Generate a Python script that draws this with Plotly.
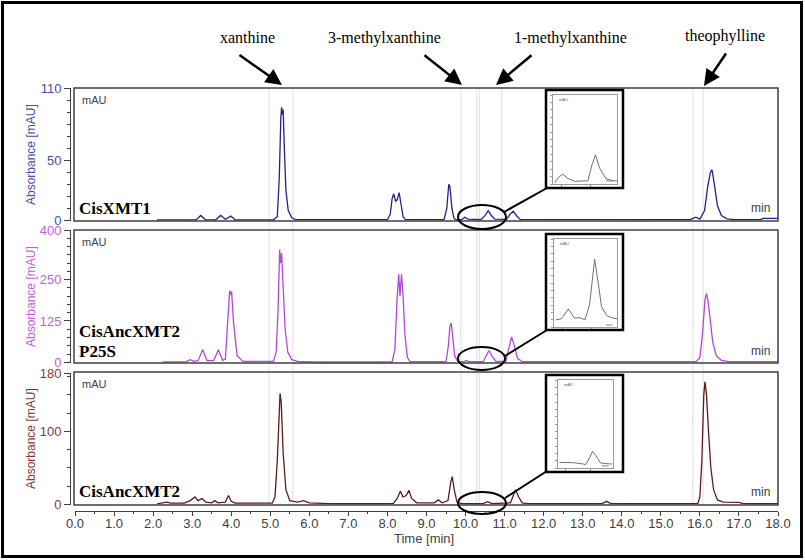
import plotly.graph_objects as go

W, H = 805, 560
def px(x): return x / W
def py(y): return 1 - y / H

# ---------------- data ----------------
time_xmt1 = [2.10, 3.10, 3.22, 3.34, 3.60, 3.73, 3.85, 3.99, 4.10, 5.08, 5.18, 5.23, 5.27, 5.29, 5.31,
             5.33, 5.36, 5.40, 5.46, 5.55, 5.65, 6.45, 8.00, 8.07, 8.12, 8.16, 8.21, 8.25, 8.30,
             8.34, 8.40, 8.46, 9.45, 9.52, 9.57, 9.60, 9.65, 9.70, 9.75, 9.90, 9.98, 10.06, 10.40,
             10.50, 10.58, 10.66, 10.75, 11.05, 11.15, 11.22, 11.30, 11.40, 15.75, 15.90, 16.00,
             16.12, 16.20, 16.27, 16.31, 16.38, 16.45, 16.55, 16.70, 16.90, 17.55, 17.62, 18.00]
abs_xmt1 = [0.3, 0.3, 4.0, 0.4, 0.4, 4.0, 0.8, 3.5, 0.4, 0.4, 3.0, 35, 85, 94, 88,
            92, 60, 25, 8, 2, 0.6, 0.5, 0.5, 5, 18, 22, 16, 17, 23,
            15, 3, 0.6, 0.5, 10, 30, 28, 10, 2, 0.5, 0.5, 2.5, 1.0, 0.5,
            4, 8, 4, 1, 0.8, 5.5, 7.5, 4, 0.7, 0.5, 2.5, 1.0,
            8, 28, 40, 42, 28, 12, 4, 1.2, 0.5, 0.5, 1.5, 1.5]

time_p25s = [2.25, 2.85, 2.95, 3.05, 3.15, 3.27, 3.38, 3.55, 3.67, 3.78, 3.85, 3.91, 3.96, 3.98,
             4.01, 4.06, 4.15, 4.30, 5.08, 5.15, 5.20, 5.24, 5.26, 5.29, 5.33, 5.38, 5.45, 5.55,
             5.70, 6.10, 8.12, 8.19, 8.25, 8.29, 8.32, 8.36, 8.40, 8.45, 8.51, 8.58, 9.50, 9.56,
             9.60, 9.63, 9.67, 9.72, 9.80, 9.95, 10.02, 10.10, 10.45, 10.53, 10.60, 10.68, 10.78,
             11.03, 11.10, 11.18, 11.25, 11.33, 11.45, 13.30, 13.40, 13.50, 15.90, 16.00, 16.07,
             16.13, 16.17, 16.21, 16.27, 16.33, 16.42, 16.55, 16.75, 18.00]
abs_p25s = [1, 2, 8, 3, 5, 38, 5, 5, 38, 6, 10, 120, 217, 205,
            214, 120, 20, 3, 3, 30, 160, 341, 300, 330, 230, 100, 30, 8,
            3, 1, 1, 40, 200, 266, 200, 266, 200, 80, 15, 2, 2, 50,
            110, 119, 80, 20, 3, 2, 5, 2, 2, 18, 36, 18, 3,
            3, 35, 77, 50, 12, 2, 2, 4, 2, 2, 15, 90,
            190, 208, 185, 120, 60, 20, 6, 2, 2]

time_anc2 = [2.10, 2.25, 2.35, 2.45, 2.80, 2.95, 3.07, 3.15, 3.25, 3.35, 3.50, 3.58, 3.66, 3.85,
             3.93, 4.00, 4.10, 5.05, 5.12, 5.18, 5.23, 5.25, 5.28, 5.33, 5.40, 5.50, 5.70, 5.85,
             6.00, 6.50, 8.15, 8.25, 8.33, 8.40, 8.48, 8.55, 8.62, 8.75, 9.20, 9.30, 9.40, 9.55,
             9.62, 9.66, 9.71, 9.78, 9.90, 10.45, 10.56, 10.68, 11.15, 11.22, 11.28, 11.36, 11.45,
             11.60, 13.50, 13.61, 13.72, 15.95, 16.00, 16.05, 16.10, 16.13, 16.17, 16.22, 16.28,
             16.35, 16.45, 16.60, 16.80, 17.00, 17.10, 18.00]
abs_anc2 = [0.5, 2.5, 3, 1.5, 1.5, 5, 10, 5, 8, 3, 2, 5, 2, 3,
            12, 4, 1.5, 1.5, 10, 60, 140, 152, 140, 70, 20, 5, 3, 5,
            2, 1, 1, 8, 18, 10, 12, 19, 8, 2, 2, 6, 2, 5,
            30, 38, 20, 3, 1, 1, 3.6, 1, 2, 12, 20, 10, 2,
            1, 1, 4, 1, 1, 10, 60, 150, 168, 150, 100, 50,
            20, 6, 3, 2.5, 2.5, 1, 1]

# zoomed insets (region around 10-11 min)
inset1_t = [9.88, 9.95, 10.02, 10.10, 10.22, 10.45, 10.52, 10.58, 10.65, 10.76, 10.88, 10.95]
inset1_v = [0.3, 2.0, 2.8, 1.6, 0.75, 0.9, 5.4, 8.2, 4.5, 1.5, 0.9, 0.9]
inset2_t = [9.885, 9.98, 10.10, 10.21, 10.30, 10.39, 10.47, 10.56, 10.62, 10.68, 10.77, 10.85, 10.95]
inset2_v = [3.5, 4.0, 8.8, 4.3, 4.6, 3.5, 10.7, 33.1, 21.9, 9.9, 5.6, 4.6, 4.0]
inset3_t = [9.88, 10.16, 10.36, 10.40, 10.48, 10.54, 10.61, 10.70, 10.83, 10.93]
inset3_v = [1.2, 1.15, 0.86, 0.72, 2.15, 3.6, 2.65, 1.08, 0.93, 0.86]

x_tick_vals = [float(v) for v in range(19)]
x_tick_text = ["%.1f" % v for v in x_tick_vals]
y1_ticks = [0, 50, 110]
y2_ticks = [0, 125, 250, 400]
y3_ticks = [0, 100, 180]
marker_times = [4.97, 5.58, 9.88, 10.29, 10.35, 10.93, 15.82, 16.08]

panel_names = ["CisXMT1", "CisAncXMT2", "P25S", "CisAncXMT2"]
compound_names = ["xanthine", "3-methylxanthine", "1-methylxanthine", "theophylline"]

# ---------------- figure ----------------
c1, c2, c3 = "#22228a", "#b347d9", "#5c1c1c"
t1, t2, t3 = "#4b4bab", "#c25ee0", "#7e3a3a"
AX = "#404040"
SANS = "Liberation Sans"
SERIF = "Liberation Serif"

fig = go.Figure()
fig.add_trace(go.Scatter(x=time_xmt1, y=abs_xmt1, mode="lines", line=dict(color=c1, width=1.3),
                         xaxis="x", yaxis="y", hoverinfo="skip"))
fig.add_trace(go.Scatter(x=time_p25s, y=abs_p25s, mode="lines", line=dict(color=c2, width=1.3),
                         xaxis="x", yaxis="y2", hoverinfo="skip"))
fig.add_trace(go.Scatter(x=time_anc2, y=abs_anc2, mode="lines", line=dict(color=c3, width=1.3),
                         xaxis="x", yaxis="y3", hoverinfo="skip"))
for i, (tt, vv) in enumerate([(inset1_t, inset1_v), (inset2_t, inset2_v), (inset3_t, inset3_v)]):
    fig.add_trace(go.Scatter(x=tt, y=vv, mode="lines", line=dict(color="#707070", width=1),
                             xaxis="x%d" % (i + 2), yaxis="y%d" % (i + 4), hoverinfo="skip"))

def yax(domain, rng, ticks, color, minor):
    return dict(domain=domain, range=rng, anchor="free", position=px(70), side="left",
                automargin=False,
                tickmode="array", tickvals=ticks, ticks="outside", ticklen=6, tickcolor=AX,
                showline=True, linecolor=AX, linewidth=1, showgrid=False, zeroline=False,
                tickfont=dict(family=SANS, size=13, color=color),
                minor=dict(tickmode="linear", tick0=0, dtick=minor, ticks="outside",
                           ticklen=3, tickcolor=AX, showgrid=False))

layout = dict(
    width=W, height=H, margin=dict(l=0, r=0, t=0, b=0, autoexpand=False),
    paper_bgcolor="white", plot_bgcolor="rgba(0,0,0,0)", showlegend=False,
    xaxis=dict(domain=[px(75), px(778)], range=[0, 18], anchor="free", position=py(511),
               automargin=False, ticklabelstandoff=-4,
               tickmode="array", tickvals=x_tick_vals, ticktext=x_tick_text,
               ticks="outside", ticklen=4, tickcolor=AX, showline=True, linecolor=AX,
               linewidth=1, showgrid=False, zeroline=False,
               tickfont=dict(family=SANS, size=13, color=AX),
               minor=dict(tickmode="linear", tick0=0, dtick=0.5, ticks="outside",
                          ticklen=2, tickcolor=AX, showgrid=False)),
    yaxis=yax([py(221), py(88)], [-0.6, 110], y1_ticks, t1, 10),
    yaxis2=yax([py(363), py(230)], [-2, 400], y2_ticks, t2, 25),
    yaxis3=yax([py(505), py(373)], [-1, 180], y3_ticks, t3, 25),
)
insets_inner = [(553, 617, 95, 184, 25), (554, 617, 239, 327, 43), (558, 613, 380, 468, 19)]
for i, (xa, xb, ya, yb, ymax) in enumerate(insets_inner):
    layout["xaxis%d" % (i + 2)] = dict(domain=[px(xa), px(xb)], range=[9.85, 10.95],
                                       anchor="y%d" % (i + 4), showline=True, mirror=True,
                                       automargin=False,
                                       linecolor="#9a9a9a", linewidth=1, ticks="outside",
                                       ticklen=2, tickcolor="#9a9a9a", tickvals=[10.0, 10.5],
                                       showticklabels=False, showgrid=False, zeroline=False)
    layout["yaxis%d" % (i + 4)] = dict(domain=[py(yb), py(ya)], range=[0, ymax],
                                       anchor="x%d" % (i + 2), showline=True, mirror=True,
                                       automargin=False,
                                       linecolor="#9a9a9a", linewidth=1, ticks="outside",
                                       ticklen=2, tickcolor="#9a9a9a", dtick=ymax / 12.0,
                                       showticklabels=False, showgrid=False, zeroline=False)
fig.update_layout(**layout)

shapes = []
# vertical marker lines
for t in marker_times:
    shapes.append(dict(type="line", xref="x", yref="paper", x0=t, x1=t, y0=py(505), y1=py(88),
                       line=dict(color="#dedede", width=1), layer="below"))
# panel frames
for (ya, yb) in [(88, 221), (230, 363), (372, 505)]:
    shapes.append(dict(type="rect", xref="paper", yref="paper", x0=px(74), x1=px(778),
                       y0=py(yb), y1=py(ya), line=dict(color=AX, width=1.5)))
# inset frames
for (ya, yb) in [(90, 188), (234, 330), (375, 472)]:
    shapes.append(dict(type="rect", xref="paper", yref="paper", x0=px(546), x1=px(623),
                       y0=py(yb), y1=py(ya), line=dict(color="black", width=2.5)))
# ellipses and connectors
for (xa, xb, ya, yb) in [(458, 506, 205, 229), (458, 505, 347, 370), (458, 506, 492, 514)]:
    shapes.append(dict(type="circle", xref="paper", yref="paper", x0=px(xa), x1=px(xb),
                       y0=py(yb), y1=py(ya), line=dict(color="black", width=2)))
for (xa, ya, xb, yb) in [(504, 212, 547, 188), (505, 356, 547, 330), (505, 498, 547, 471)]:
    shapes.append(dict(type="line", xref="paper", yref="paper", x0=px(xa), y0=py(ya),
                       x1=px(xb), y1=py(yb), line=dict(color="black", width=2)))
# outer frame
shapes.append(dict(type="rect", xref="paper", yref="paper", x0=px(2.5), x1=px(801.5),
                   y0=py(556.5), y1=py(2.5), line=dict(color="black", width=3)))
fig.update_layout(shapes=shapes)

ann = []
def text(x, y, s, size, color, family=SANS, xanchor="center", angle=0, bold=False):
    ann.append(dict(x=px(x), y=py(y), xref="paper", yref="paper", text=("<b>%s</b>" % s) if bold else s,
                    showarrow=False, xanchor=xanchor, yanchor="middle", textangle=angle,
                    font=dict(family=family, size=size, color=color)))

# y-axis titles
for yc, col in [(154, t1), (296, t2), (438, t3)]:
    text(31, yc, "Absorbance [mAU]", 12, col, angle=-90)
# mAU / min labels
for yc in [100, 242, 384]:
    text(80, yc, "mAU", 11, AX, xanchor="left")
for yc in [208, 351, 492]:
    text(772, yc, "min", 12, AX, xanchor="right")
# panel names
text(77, 208, panel_names[0], 17, "black", SERIF, "left", bold=True)
text(77, 331, panel_names[1], 17, "black", SERIF, "left", bold=True)
text(77, 351, panel_names[2], 17, "black", SERIF, "left", bold=True)
text(77, 491, panel_names[3], 17, "black", SERIF, "left", bold=True)
# x-axis title
text(424, 538, "Time [min]", 13, AX)
# inset tiny labels
for (xa, xb, ya, yb, _) in insets_inner:
    text(xa + 4, ya + 4, "mAU", 4, "#606060", xanchor="left")
    text(xb - 3, yb - 3, "min", 4, "#606060", xanchor="right")
# compound labels
for (xc, yc, s) in [(248, 38, compound_names[0]), (384, 38, compound_names[1]),
                    (570, 38, compound_names[2]), (725, 36, compound_names[3])]:
    text(xc, yc, s, 16, "black", SERIF)
# arrows
for (tx, ty, hx, hy) in [(238, 54, 282, 85), (423, 54, 462, 85), (533, 54, 496, 85), (727, 52, 704, 86)]:
    ann.append(dict(x=px(hx), y=py(hy), xref="paper", yref="paper", text="", showarrow=True,
                    ax=tx - hx, ay=ty - hy, arrowhead=2, arrowsize=1.3, arrowwidth=2.5,
                    arrowcolor="black"))
fig.update_layout(annotations=ann)

fig.write_html("out.html", config={"displayModeBar": False},
               post_script="document.body.style.margin='0px';document.body.style.overflow='hidden';")
